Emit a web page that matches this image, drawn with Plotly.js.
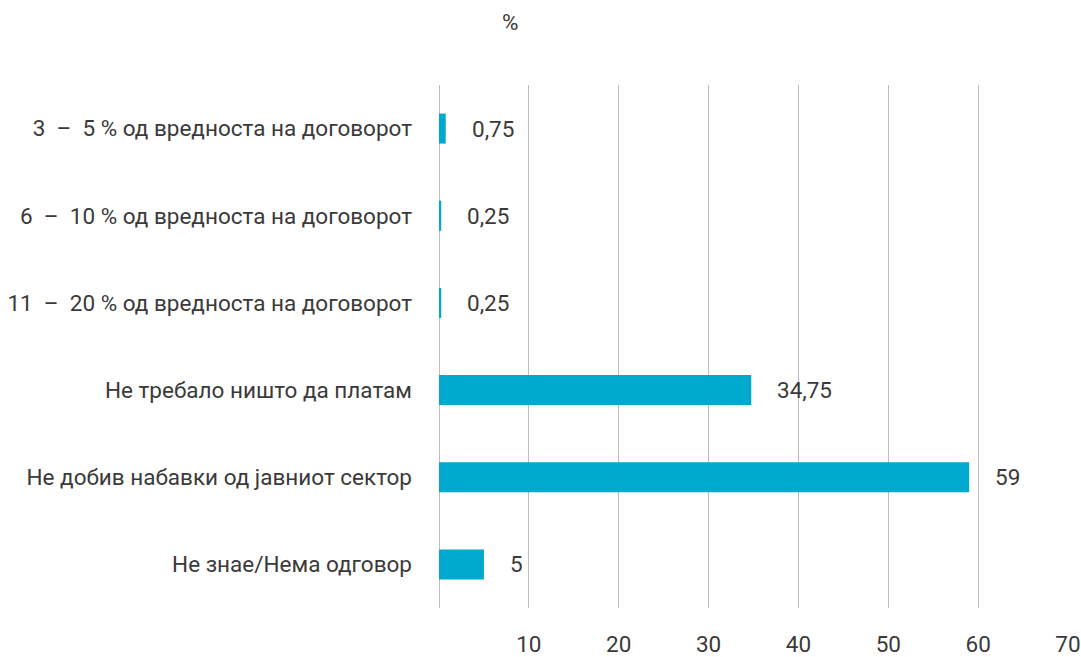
<!DOCTYPE html>
<html>
<head>
<meta charset="utf-8">
<script src="https://cdn.plot.ly/plotly-3.0.1.min.js"></script>
<style>html,body{margin:0;padding:0;background:#fff;}#chart{width:1081px;height:657px;}</style>
</head>
<body>
<div id="chart"></div>
<script>
const categories = [
  "3\u00a0\u00a0–\u00a0\u00a05\u00a0% од вредноста на договорот",
  "6\u00a0\u00a0–\u00a0\u00a010\u00a0% од вредноста на договорот",
  "11\u00a0\u00a0–\u00a0\u00a020\u00a0% од вредноста на договорот",
  "Не требало ништо да платам",
  "Не добив набавки од јавниот сектор",
  "Не знае/Нема одговор"
];
const values = [0.75, 0.25, 0.25, 34.75, 59, 5];
const xTickVals = [10, 20, 30, 40, 50, 60, 70];
const xTickText = ["10", "20", "30", "40", "50", "60", "70"];
const unitLabel = "%";

const FONT = "Roboto, 'Noto Sans', sans-serif";
const TXT = "#3a3a3a";
const FS = 22.5;

const trace = {
  type: "bar",
  orientation: "h",
  y: categories,
  x: values,
  marker: {color: "#00a9ce", line: {width: 0}},
  hoverinfo: "none"
};

const annotations = values.map((v, i) => ({
  x: v, y: categories[i], xref: "x", yref: "y",
  text: String(v).replace(".", ","),
  showarrow: false, xanchor: "left", yanchor: "middle", xshift: 24,
  font: {family: FONT, size: FS, color: TXT}
}));
annotations.push({
  x: 0.113, y: 1.12, xref: "paper", yref: "paper",
  text: unitLabel, showarrow: false, xanchor: "center", yanchor: "middle",
  font: {family: FONT, size: FS, color: TXT}
});

const layout = {
  width: 1081, height: 657,
  margin: {l: 439, r: 13, t: 85, b: 49},
  paper_bgcolor: "#fff", plot_bgcolor: "#fff",
  separators: ", ",
  bargap: 0.655,
  showlegend: false,
  font: {family: FONT, size: FS, color: TXT},
  xaxis: {
    range: [0, 70], tickvals: xTickVals, ticktext: xTickText,
    showgrid: true, gridcolor: "#bdbdbd", gridwidth: 1,
    zeroline: true, zerolinecolor: "#bdbdbd", zerolinewidth: 1,
    showline: false, ticks: "", ticklabelstandoff: 20,
    tickfont: {family: FONT, size: FS, color: TXT}, fixedrange: true
  },
  yaxis: {
    type: "category", autorange: "reversed",
    showgrid: false, zeroline: false, showline: false, ticks: "",
    ticklabelstandoff: 26,
    tickfont: {family: FONT, size: FS, color: TXT}, fixedrange: true
  },
  annotations: annotations
};

Plotly.newPlot("chart", [trace], layout, {displayModeBar: false, staticPlot: true});
</script>
</body>
</html>
